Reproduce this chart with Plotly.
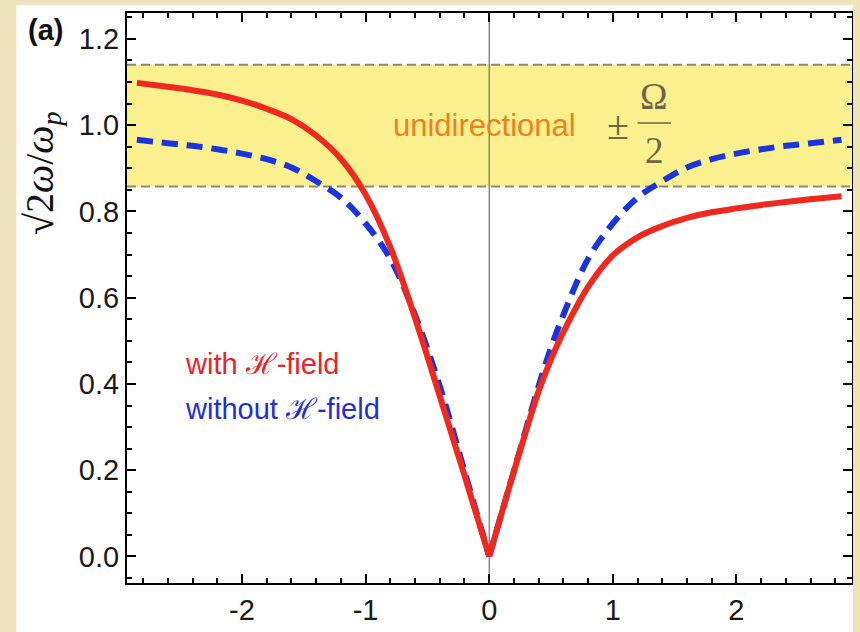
import plotly.graph_objects as go

# Wave number (horizontal axis) on each side of k = 0
k_left = [-2.85, -2.6, -2.4, -2.2, -2.0, -1.8, -1.6, -1.4, -1.2, -1.0, -0.8, -0.6, -0.4, -0.2, 0.0]
k_right = [0.0, 0.2, 0.4, 0.5, 0.6, 0.8, 1.0, 1.2, 1.4, 1.6, 1.8, 2.0, 2.2, 2.4, 2.6, 2.85]

# Normalised frequency sqrt(2)*omega/omega_p with the H-field
with_H_left = [1.098, 1.089, 1.081, 1.071, 1.057, 1.038, 1.014, 0.976, 0.922, 0.839, 0.717, 0.553, 0.372, 0.188, 0.0]
with_H_right = [0.0, 0.197, 0.383, 0.457, 0.520, 0.625, 0.698, 0.740, 0.766, 0.785, 0.798, 0.807, 0.815, 0.822, 0.828, 0.835]

# ... and without it
without_H_left = [0.966, 0.958, 0.952, 0.944, 0.934, 0.921, 0.902, 0.870, 0.832, 0.772, 0.690, 0.560, 0.395, 0.198, 0.0]
without_H_right = [0.0, 0.198, 0.395, 0.484, 0.560, 0.690, 0.772, 0.832, 0.870, 0.902, 0.921, 0.934, 0.944, 0.952, 0.958, 0.966]

# Unidirectional band: 1 +/- Omega/2
band_low = 0.858
band_high = 1.14

x_tickvals = [-2, -1, 0, 1, 2]
x_ticktext = ["-2", "-1", "0", "1", "2"]
y_tickvals = [0.0, 0.2, 0.4, 0.6, 0.8, 1.0, 1.2]
y_ticktext = ["0.0", "0.2", "0.4", "0.6", "0.8", "1.0", "1.2"]

RED = "#f0281e"
BLUE = "#1a35e0"
PAPER = "#efe3bc"
OLIVE = "#6e6646"
SANS = "Liberation Sans, Arial, sans-serif"
SERIF = "Liberation Serif, DejaVu Serif, serif"

fig = go.Figure()

for xs, ys, color, dash, width in [
    (k_left, without_H_left, BLUE, "16px,9px", 6),
    (k_right, without_H_right, BLUE, "16px,9px", 6),
    (k_left, with_H_left, RED, "solid", 6),
    (k_right, with_H_right, RED, "solid", 6),
]:
    fig.add_trace(go.Scatter(
        x=xs, y=ys, mode="lines",
        line=dict(color=color, width=width, dash=dash, shape="spline", smoothing=1.0),
        showlegend=False, hoverinfo="skip",
    ))

shapes = [
    # yellow band
    dict(type="rect", xref="paper", yref="y", x0=0, x1=1, y0=band_low, y1=band_high,
         fillcolor="#faf18e", line=dict(width=0), layer="below"),
    dict(type="line", xref="paper", yref="y", x0=0, x1=1, y0=band_low, y1=band_low,
         line=dict(color="#8c8878", width=2, dash="9px,5px"), layer="below"),
    dict(type="line", xref="paper", yref="y", x0=0, x1=1, y0=band_high, y1=band_high,
         line=dict(color="#8c8878", width=2, dash="9px,5px"), layer="below"),
    # vertical line at k = 0
    dict(type="line", xref="x", yref="paper", x0=0, x1=0, y0=0, y1=1,
         line=dict(color="#555555", width=1), layer="below"),
    # fraction bar of Omega/2
    dict(type="line", xref="x", yref="y", x0=1.2, x1=1.47, y0=1.005, y1=1.005,
         line=dict(color=OLIVE, width=1.5)),
    # parchment border round the white panel
    dict(type="rect", xref="paper", yref="paper", x0=-0.2, x1=-0.1527, y0=-0.1, y1=1.1,
         fillcolor=PAPER, line=dict(width=0), layer="above"),
    dict(type="rect", xref="paper", yref="paper", x0=-0.2, x1=1.02, y0=1.0138, y1=1.1,
         fillcolor=PAPER, line=dict(width=0), layer="above"),
    dict(type="rect", xref="paper", yref="paper", x0=1.0014, x1=1.02, y0=-0.1, y1=1.1,
         fillcolor=PAPER, line=dict(width=0), layer="above"),
]

annotations = [
    dict(text="<b>(a)</b>", xref="paper", yref="paper", x=-0.1128, y=0.9707,
         xanchor="center", yanchor="middle",
         showarrow=False, font=dict(family=SANS, size=29, color="#111111")),
    dict(text="√2<i>ω</i>/<i>ω</i><sub><i>p</i></sub>", xref="paper", yref="paper",
         x=-0.118, y=0.72, xanchor="center", yanchor="middle", textangle=-90, showarrow=False,
         font=dict(family=SERIF, size=40, color="#111111")),
    dict(text="unidirectional", xref="x", yref="y", x=-0.04, y=1.0,
         showarrow=False, font=dict(family=SANS, size=31, color="#f08020")),
    dict(text="±", xref="x", yref="y", x=1.04, y=1.0,
         showarrow=False, font=dict(family=SERIF, size=40, color=OLIVE)),
    dict(text="Ω", xref="x", yref="y", x=1.335, y=1.066,
         showarrow=False, font=dict(family=SERIF, size=37, color=OLIVE)),
    dict(text="2", xref="x", yref="y", x=1.335, y=0.941,
         showarrow=False, font=dict(family=SERIF, size=37, color=OLIVE)),
    dict(text="with ℋ-field", xref="x", yref="y", x=-2.48, y=0.447, xanchor="left",
         showarrow=False, font=dict(family=SANS, size=29, color="#e8242a")),
    dict(text="without ℋ-field", xref="x", yref="y", x=-2.48, y=0.342, xanchor="left",
         showarrow=False, font=dict(family=SANS, size=29, color="#1f2fd8")),
]

axis_common = dict(
    showline=True, linecolor="black", linewidth=2, mirror="allticks",
    ticks="inside", ticklen=9, tickwidth=2, tickcolor="black",
    showgrid=False, zeroline=False,
    tickfont=dict(family=SANS, size=29, color="#1a1a1a"),
)

fig.update_xaxes(
    range=[-2.93, 2.935], tickvals=x_tickvals, ticktext=x_ticktext,
    minor=dict(ticks="inside", ticklen=5, tickwidth=2, tickcolor="black", dtick=0.2, tick0=0),
    **axis_common,
)
fig.update_yaxes(
    range=[-0.0615, 1.26], tickvals=y_tickvals, ticktext=y_ticktext,
    minor=dict(ticks="inside", ticklen=5, tickwidth=2, tickcolor="black", dtick=0.05, tick0=0),
    **axis_common,
)

fig.update_layout(
    width=860, height=632,
    margin=dict(l=127, r=6, t=13, b=39),
    paper_bgcolor="white",
    plot_bgcolor="white",
    shapes=shapes,
    annotations=annotations,
    showlegend=False,
)

fig.write_html("out.html")
